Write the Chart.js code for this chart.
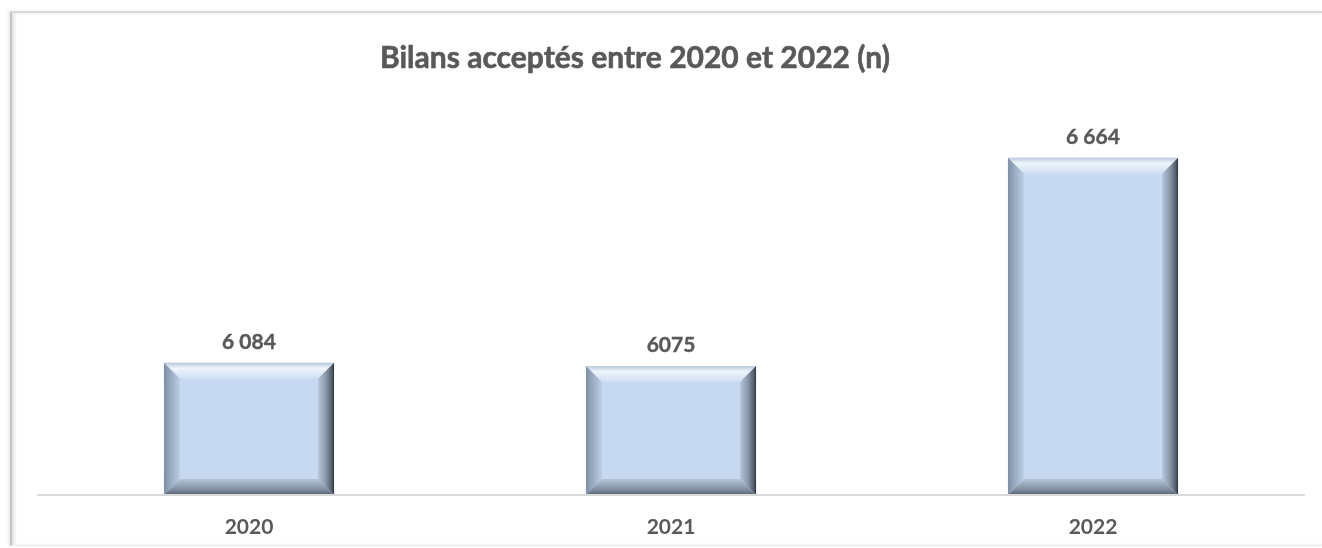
<!DOCTYPE html>
<html lang="fr">
<head>
<meta charset="utf-8">
<title>Bilans acceptés entre 2020 et 2022 (n)</title>
<script src="https://cdn.jsdelivr.net/npm/chart.js@4.4.1/dist/chart.umd.min.js"></script>
<style>
  html, body { margin: 0; padding: 0; background: #ffffff; }
  body { width: 1322px; height: 548px; position: relative; overflow: hidden; }
  .frame {
    position: absolute; left: 10px; top: 11px; right: 0; bottom: 2px;
    border-top: 2px solid #d9d9d9;
    border-left: 2px solid #c4c4c4;
    border-bottom: 1px solid #f0f0f0;
    box-shadow: inset 3px 0 3px rgba(0,0,0,0.10), -2px 0 2px rgba(0,0,0,0.08);
  }
  #wrap { position: absolute; left: 0; top: 0; width: 1322px; height: 548px; }
</style>
</head>
<body>
<div class="frame"></div>
<div id="wrap"><canvas id="chart" width="1322" height="548"></canvas></div>
<script>
// Accepted reports per year
const years = ["2020", "2021", "2022"];
const accepted = [6084, 6075, 6664];
const valueLabels = ["6 084", "6075", "6 664"];

const TEXT = "#595959";
const FONT = "Lato, 'Open Sans', sans-serif";

// Title drawn above the plot
const titlePlugin = {
  id: "titleText",
  afterDraw(chart) {
    const ctx = chart.ctx;
    ctx.save();
    ctx.font = "bold 30px " + FONT;
    ctx.fillStyle = TEXT;
    ctx.strokeStyle = TEXT;
    ctx.lineWidth = 0.6;
    ctx.textAlign = "center";
    ctx.textBaseline = "alphabetic";
    ctx.fillText("Bilans acceptés entre 2020 et 2022 (n)", 635, 68);
    ctx.strokeText("Bilans acceptés entre 2020 et 2022 (n)", 635, 68);
    ctx.restore();
  }
};

// Bevelled look on each bar, plus its value label
const bevelPlugin = {
  id: "bevel",
  afterDatasetsDraw(chart) {
    const ctx = chart.ctx;
    const area = chart.chartArea;
    const meta = chart.getDatasetMeta(0);
    meta.data.forEach((bar, i) => {
      const p = bar.getProps(["x", "y", "base", "width"], true);
      const l = p.x - p.width / 2, r = p.x + p.width / 2;
      const t = p.y, b = Math.min(p.base, area.bottom);
      const d = 16;
      ctx.save();
      // top
      let g = ctx.createLinearGradient(0, t, 0, t + d);
      g.addColorStop(0, "#b9c9dc");
      g.addColorStop(0.35, "#eef4fb");
      g.addColorStop(1, "#cfdff2");
      ctx.fillStyle = g;
      ctx.beginPath();
      ctx.moveTo(l, t); ctx.lineTo(r, t); ctx.lineTo(r - d, t + d); ctx.lineTo(l + d, t + d); ctx.closePath();
      ctx.fill();
      // left
      g = ctx.createLinearGradient(l, 0, l + d, 0);
      g.addColorStop(0, "#7f90a6");
      g.addColorStop(1, "#bccfe6");
      ctx.fillStyle = g;
      ctx.beginPath();
      ctx.moveTo(l, t); ctx.lineTo(l + d, t + d); ctx.lineTo(l + d, b - d); ctx.lineTo(l, b); ctx.closePath();
      ctx.fill();
      // right
      g = ctx.createLinearGradient(r, 0, r - d, 0);
      g.addColorStop(0, "#2c333c");
      g.addColorStop(0.12, "#4f5a68");
      g.addColorStop(0.5, "#8896a8");
      g.addColorStop(1, "#b7c8dd");
      ctx.fillStyle = g;
      ctx.beginPath();
      ctx.moveTo(r, t); ctx.lineTo(r, b); ctx.lineTo(r - d, b - d); ctx.lineTo(r - d, t + d); ctx.closePath();
      ctx.fill();
      // bottom
      g = ctx.createLinearGradient(0, b, 0, b - d);
      g.addColorStop(0, "#56616e");
      g.addColorStop(0.3, "#7d8a9b");
      g.addColorStop(1, "#b4c5da");
      ctx.fillStyle = g;
      ctx.beginPath();
      ctx.moveTo(l, b); ctx.lineTo(r, b); ctx.lineTo(r - d, b - d); ctx.lineTo(l + d, b - d); ctx.closePath();
      ctx.fill();
      // value label
      ctx.font = "bold 21px " + FONT;
      ctx.fillStyle = TEXT;
      ctx.strokeStyle = TEXT;
      ctx.lineWidth = 0.4;
      ctx.textAlign = "center";
      ctx.textBaseline = "alphabetic";
      ctx.fillText(valueLabels[i], p.x, t - 14);
      ctx.strokeText(valueLabels[i], p.x, t - 14);
      ctx.restore();
    });
  }
};

new Chart(document.getElementById("chart"), {
  type: "bar",
  data: {
    labels: years,
    datasets: [{
      data: accepted,
      backgroundColor: "#c6d9f1",
      borderWidth: 0,
      categoryPercentage: 1,
      barPercentage: 0.403
    }]
  },
  options: {
    responsive: false,
    animation: false,
    devicePixelRatio: 1,
    layout: { padding: { left: 38, right: 18, top: 106, bottom: 0 } },
    plugins: {
      legend: { display: false },
      title: { display: false },
      tooltip: { enabled: false }
    },
    scales: {
      x: {
        grid: { display: false, drawTicks: false },
        border: { display: true, color: "#d9d9d9", width: 2, z: 1 },
        ticks: { color: TEXT, font: { family: FONT, size: 21, weight: "bold" }, padding: 20 },
        afterFit(scale) { scale.height = 53; }
      },
      y: {
        display: false,
        min: 5710,
        max: 6810
      }
    }
  },
  plugins: [bevelPlugin, titlePlugin]
});
</script>
</body>
</html>
